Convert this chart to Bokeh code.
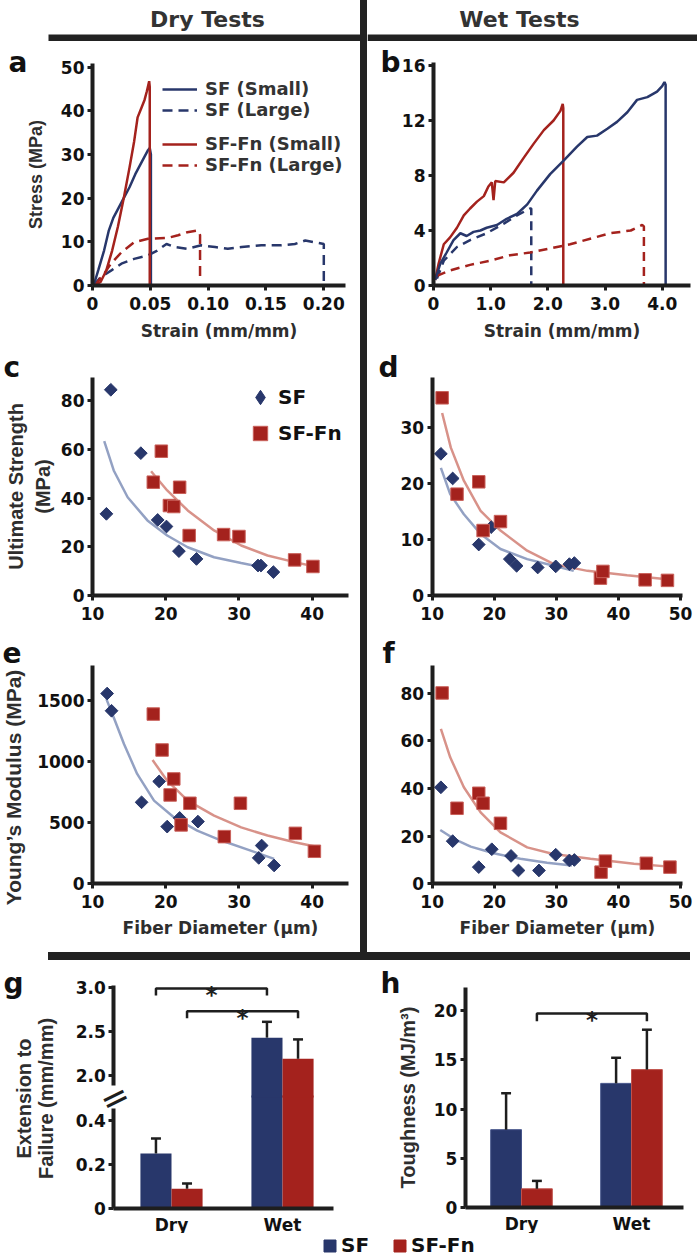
import math
from bokeh.plotting import figure
from bokeh.layouts import row, column
from bokeh.models import Spacer, Label, Legend, LegendItem, FixedTicker, Range1d, LinearAxis
from bokeh.embed import file_html
from bokeh.resources import INLINE
from bokeh.core.properties import value

# ======================= DATA =======================
# (a) Dry tests: stress (MPa) vs strain (mm/mm)
a_sf_small_strain = [0.001, 0.005, 0.010, 0.014, 0.018, 0.022, 0.027, 0.032, 0.037, 0.041, 0.045, 0.048, 0.0495, 0.0505, 0.0505]
a_sf_small_stress = [0.0, 3.5, 8.0, 12.5, 15.5, 17.5, 20.0, 22.5, 25.5, 27.5, 29.5, 31.0, 31.5, 30.0, 0.0]
a_sf_large_strain = [0.001, 0.007, 0.016, 0.025, 0.036, 0.048, 0.056, 0.064, 0.071, 0.082, 0.094, 0.106, 0.117, 0.129, 0.146, 0.163, 0.175, 0.184, 0.192, 0.200, 0.200]
a_sf_large_stress = [0.0, 1.9, 3.4, 5.0, 6.1, 6.9, 8.0, 9.5, 8.8, 8.4, 9.2, 8.8, 8.4, 8.8, 9.2, 9.2, 9.5, 10.3, 9.9, 9.5, 1.0]
a_fn_small_strain = [0.002, 0.007, 0.012, 0.017, 0.022, 0.027, 0.032, 0.036, 0.039, 0.042, 0.045, 0.047, 0.049, 0.0495, 0.0495]
a_fn_small_stress = [0.0, 0.8, 3.5, 8.0, 13.5, 20.0, 27.0, 33.0, 38.5, 40.5, 42.5, 44.5, 46.8, 45.5, 0.0]
a_fn_large_strain = [0.002, 0.010, 0.016, 0.025, 0.036, 0.048, 0.065, 0.074, 0.082, 0.091, 0.0925, 0.093, 0.093]
a_fn_large_stress = [0.0, 2.7, 5.0, 7.6, 9.9, 10.7, 10.9, 11.5, 12.2, 12.6, 12.0, 11.5, 1.0]

# (b) Wet tests: stress (MPa) vs strain (mm/mm)
b_sf_small_strain = [0.03, 0.12, 0.23, 0.35, 0.47, 0.58, 0.70, 0.82, 0.93, 1.11, 1.28, 1.46, 1.64, 1.81, 2.04, 2.28, 2.51, 2.69, 2.86, 3.04, 3.21, 3.39, 3.56, 3.74, 3.91, 4.00, 4.04, 4.06, 4.06]
b_sf_small_stress = [0.4, 1.6, 2.4, 3.3, 3.8, 3.6, 3.9, 4.0, 4.2, 4.4, 4.85, 5.2, 5.9, 6.9, 8.1, 9.1, 10.1, 10.8, 10.9, 11.4, 11.9, 12.6, 13.5, 13.7, 14.1, 14.5, 14.8, 14.6, 0.0]
b_sf_large_strain = [0.06, 0.18, 0.41, 0.64, 0.93, 1.23, 1.46, 1.69, 1.71, 1.71]
b_sf_large_stress = [0.5, 1.8, 2.8, 3.3, 3.8, 4.5, 5.1, 5.6, 5.6, 0.0]
b_fn_small_strain = [0.03, 0.09, 0.18, 0.29, 0.41, 0.53, 0.64, 0.76, 0.88, 0.96, 1.02, 1.05, 1.08, 1.23, 1.40, 1.58, 1.75, 1.93, 2.10, 2.22, 2.26, 2.27, 2.27]
b_fn_small_stress = [0.4, 1.6, 3.0, 3.5, 4.2, 5.1, 5.6, 6.1, 6.5, 7.2, 7.5, 6.2, 7.6, 7.5, 8.2, 9.3, 10.3, 11.3, 12.0, 12.7, 13.2, 12.9, 0.0]
b_fn_large_strain = [0.06, 0.29, 0.64, 0.99, 1.34, 1.69, 2.04, 2.39, 2.74, 3.09, 3.45, 3.65, 3.68, 3.68]
b_fn_large_stress = [0.7, 1.1, 1.5, 1.8, 2.2, 2.4, 2.7, 3.0, 3.4, 3.8, 4.0, 4.4, 4.3, 0.0]

# (c) Dry ultimate strength (MPa) vs fiber diameter (um)
c_sf_diam = [12.5, 11.9, 16.6, 18.9, 20.1, 21.8, 24.2, 32.6, 33.0, 34.7]
c_sf_val = [84.4, 33.5, 58.4, 31.0, 28.3, 18.2, 15.0, 12.3, 12.3, 9.6]
c_fn_diam = [19.4, 18.3, 21.9, 20.5, 21.1, 23.2, 27.9, 30.0, 37.6, 40.1]
c_fn_val = [59.2, 46.5, 44.4, 36.9, 36.5, 24.6, 25.0, 24.2, 14.6, 11.9]
c_sf_fit_x = [11.6, 12.9, 14.8, 17.5, 20.2, 23.0, 26.6, 30.3, 33.2]
c_sf_fit_y = [63.3, 51.3, 40.3, 30.8, 24.6, 19.8, 15.7, 13.3, 11.6]
c_fn_fit_x = [18.0, 20.2, 23.0, 26.6, 30.3, 33.9, 37.6, 40.3]
c_fn_fit_y = [51.0, 43.1, 34.9, 26.7, 20.5, 16.4, 13.7, 11.9]

# (d) Wet ultimate strength (MPa)
d_sf_diam = [11.4, 13.3, 17.5, 19.5, 22.5, 23.6, 27.0, 29.9, 32.1, 32.9]
d_sf_val = [25.3, 20.9, 9.1, 12.2, 6.5, 5.3, 5.0, 5.2, 5.6, 5.8]
d_fn_diam = [11.6, 14.0, 17.5, 18.2, 21.0, 37.1, 37.5, 44.3, 47.9]
d_fn_val = [35.3, 18.1, 20.3, 11.6, 13.2, 3.1, 4.3, 2.8, 2.7]
d_sf_fit_x = [11.4, 12.9, 15.1, 17.8, 21.0, 25.3, 29.6, 32.8]
d_sf_fit_y = [22.8, 18.1, 14.5, 11.0, 8.3, 6.5, 5.3, 4.4]
d_fn_fit_x = [11.6, 13.0, 15.1, 17.8, 21.0, 25.3, 29.6, 35.0, 41.4, 48.6]
d_fn_fit_y = [32.6, 26.4, 20.5, 15.1, 11.6, 8.0, 5.6, 4.4, 3.6, 2.8]

# (e) Dry Young's modulus (MPa)
e_sf_diam = [12.0, 12.6, 19.1, 16.7, 21.9, 20.2, 24.4, 33.1, 32.7, 34.8]
e_sf_val = [1557, 1416, 838, 667, 539, 468, 509, 313, 212, 150]
e_fn_diam = [18.3, 19.5, 21.1, 20.6, 23.3, 30.2, 22.1, 28.0, 37.7, 40.3]
e_fn_val = [1389, 1095, 858, 727, 659, 659, 482, 386, 413, 266]
e_sf_fit_x = [11.9, 12.9, 14.3, 16.1, 18.4, 21.1, 24.3, 27.6, 31.3, 34.8]
e_sf_fit_y = [1511, 1361, 1144, 899, 681, 544, 435, 354, 278, 204]
e_fn_fit_x = [18.2, 20.2, 23.0, 26.6, 30.3, 33.9, 37.6, 40.4]
e_fn_fit_y = [1013, 844, 681, 558, 462, 395, 340, 305]

# (f) Wet Young's modulus (MPa)
f_sf_diam = [11.4, 13.3, 17.5, 19.6, 22.7, 23.9, 27.2, 29.9, 32.1, 32.9]
f_sf_val = [40.5, 17.9, 7.0, 14.5, 11.7, 5.6, 5.6, 12.2, 9.8, 10.0]
f_fn_diam = [11.6, 14.0, 17.5, 18.2, 21.0, 37.2, 37.9, 44.5, 48.3]
f_fn_val = [80.1, 31.7, 38.0, 33.8, 25.4, 4.9, 9.5, 8.6, 7.0]
f_sf_fit_x = [11.3, 13.5, 16.2, 19.9, 24.2, 28.5, 32.5]
f_sf_fit_y = [22.6, 18.9, 15.6, 12.8, 10.5, 8.8, 7.7]
f_fn_fit_x = [11.4, 12.9, 15.1, 17.8, 21.0, 25.3, 29.5, 35.5, 42.5, 49.2]
f_fn_fit_y = [65.0, 53.1, 40.5, 30.0, 21.6, 15.3, 12.5, 10.5, 8.4, 7.0]

# (g) Extension to failure (mm/mm), (h) toughness (MJ/m^3)
conditions = ["Dry", "Wet"]
g_sf = [0.25, 2.43]
g_sf_err = [0.068, 0.18]
g_fn = [0.09, 2.19]
g_fn_err = [0.024, 0.22]
h_sf = [7.9, 12.6]
h_sf_err = [3.7, 2.6]
h_fn = [1.9, 14.0]
h_fn_err = [0.8, 4.05]
# significance brackets: (start group, start series, end group, end series, height)
g_sig = [(0, "SF", 1, "SF", 2.99), (0, "SF-Fn", 1, "SF-Fn", 2.73)]
h_sig = [(0, "SF-Fn", 1, "SF-Fn", 19.7)]

# tick labels
a_xticks = [0, 0.05, 0.10, 0.15, 0.20]
a_xlabels = ["0", "0.05", "0.10", "0.15", "0.20"]
a_yticks = [0, 10, 20, 30, 40, 50]
b_xticks = [0, 1, 2, 3, 4]
b_xlabels = ["0", "1.0", "2.0", "3.0", "4.0"]
b_yticks = [0, 4, 8, 12, 16]
c_yticks = [0, 20, 40, 60, 80]
d_yticks = [0, 10, 20, 30]
e_yticks = [0, 500, 1000, 1500]
f_yticks = [0, 20, 40, 60, 80]
diam_ticks_dry = [10, 20, 30, 40]
diam_ticks_wet = [10, 20, 30, 40, 50]
g_upper_ticks = [2.0, 2.5, 3.0]
g_upper_labels = ["2.0", "2.5", "3.0"]
g_lower_ticks = [0, 0.2, 0.4]
g_lower_labels = ["0", "0.2", "0.4"]
h_yticks = [0, 5, 10, 15, 20]

# ======================= STYLE =======================
NAVY = "#28376B"
RED = "#A4221D"
NAVY_FIT = "#8D9CC0"
RED_FIT = "#D68C83"
INK = "#1E1E1E"
TXT = "#2E2E2E"
HF = "DejaVu Sans"
VF = "Liberation Sans"
OFF = 0.14
BW = 0.28
CAP = 0.045
NAN = [float("nan")]


def lin_range(d0, p0, d1, p1, c0, c1):
    """Range whose ends sit at canvas pixels c0, c1, given two data->pixel anchors."""
    s = (d1 - d0) / (p1 - p0)
    return Range1d(d0 + (c0 - p0) * s, d0 + (c1 - p0) * s)


def px_to_val(m, px):
    d0, p0, d1, p1 = m
    return d0 + (px - p0) * (d1 - d0) / (p1 - p0)


def base(w, h, xr, yr, xaxis=True, yaxis=True):
    p = figure(width=w, height=h, x_range=xr, y_range=yr, title=None,
               output_backend="svg", toolbar_location=None, min_border=0,
               x_axis_type="linear" if xaxis else None,
               y_axis_type="linear" if yaxis else None)
    p.grid.visible = False
    p.outline_line_color = None
    p.background_fill_color = "white"
    p.border_fill_color = "white"
    return p


def panel(box, xmap, ymap, xb, yb, xaxis=True, yaxis=True):
    cx, cy, cw, ch = box
    p = base(cw, ch, lin_range(*xmap, cx, cx + cw), lin_range(*ymap, cy + ch, cy), xaxis, yaxis)
    if xaxis:
        p.xaxis.fixed_location = yb[0]
        p.xaxis.bounds = xb
    if yaxis:
        p.yaxis.fixed_location = xb[0]
        p.yaxis.bounds = yb
    p._box = box
    return p


def style_axis(ax, ticks, labels=None, size="17px", tick_out=5, standoff=3):
    ax.ticker = FixedTicker(ticks=list(ticks))
    if labels is not None:
        ax.major_label_overrides = {t: l for t, l in zip(ticks, labels)}
    ax.axis_line_width = 4
    ax.axis_line_color = INK
    ax.major_tick_line_width = 3
    ax.major_tick_line_color = INK
    ax.major_tick_out = tick_out
    ax.major_tick_in = 0
    ax.minor_tick_line_color = None
    ax.major_label_text_font = HF
    ax.major_label_text_font_style = "bold"
    ax.major_label_text_font_size = size
    ax.major_label_text_color = "#111111"
    ax.major_label_standoff = standoff
    ax.axis_label_text_font_style = "bold"
    ax.axis_label_text_color = TXT


def xlabel(p, text, standoff=8):
    p.xaxis.axis_label = text
    p.xaxis.axis_label_text_font = HF
    p.xaxis.axis_label_text_font_size = "17px"
    p.xaxis.axis_label_standoff = standoff


def ylabel(p, text, size="20px", standoff=8):
    p.yaxis.axis_label = text
    p.yaxis.axis_label_text_font = VF
    p.yaxis.axis_label_text_font_size = size
    p.yaxis.axis_label_standoff = standoff


def page_label(p, text, px, py, size="28px", font=HF, angle=0.0, align="left", color="#111111"):
    """Label anchored at page pixel (px, py); the figure frame covers its whole canvas."""
    cx, cy, cw, ch = p._box
    p.add_layout(Label(x=px - cx, y=cy + ch - py, x_units="screen", y_units="screen", text=text,
                       angle=angle, text_font=font, text_font_style="bold", text_font_size=size,
                       text_color=color, text_align=align, text_baseline="middle"))


def scatter_panel(p, sfx, sfy, fnx, fny, sffx, sffy, fnfx, fnfy):
    p.line(sffx, sffy, line_color=NAVY_FIT, line_width=2.5, line_alpha=0.95)
    p.line(fnfx, fnfy, line_color=RED_FIT, line_width=2.5, line_alpha=0.95)
    p.scatter(sfx, sfy, marker="square", angle=math.pi / 4, size=9,
              fill_color=NAVY, line_color=NAVY, line_width=1)
    p.scatter(fnx, fny, marker="square", size=12.5,
              fill_color=RED, line_color="#C9605A", line_width=1)


def err_bar(p, x, v, e, rng="default"):
    p.segment(x0=[x], y0=[v], x1=[x], y1=[v + e], line_color=INK, line_width=2.5, y_range_name=rng)
    p.segment(x0=[x - CAP], y0=[v + e], x1=[x + CAP], y1=[v + e], line_color=INK, line_width=2.5,
              y_range_name=rng)


def bars(p, sf, sf_err, fn, fn_err):
    gx = list(range(len(conditions)))
    xs_sf = [g - OFF for g in gx]
    xs_fn = [g + OFF for g in gx]
    p.vbar(x=xs_sf, top=sf, bottom=0, width=BW, fill_color=NAVY, line_color="#46558A", line_width=1)
    p.vbar(x=xs_fn, top=fn, bottom=0, width=BW, fill_color=RED, line_color="#C0524C", line_width=1)
    for xs, v, e in ((xs_sf, sf, sf_err), (xs_fn, fn, fn_err)):
        for x, vv, ee in zip(xs, v, e):
            err_bar(p, x, vv, ee)


def broken_bars(p, sf, sf_err, fn, fn_err, low_top, low_cover, high_bottom):
    """Bars on a broken axis: lower segment on the default range, upper segment on 'upper'."""
    gx = list(range(len(conditions)))
    for off, vals, errs, col in ((-OFF, sf, sf_err, NAVY), (OFF, fn, fn_err, RED)):
        for g, v, e in zip(gx, vals, errs):
            x = g + off
            if v <= low_top:
                p.vbar(x=[x], top=[v], bottom=0, width=BW, fill_color=col, line_color=None)
                err_bar(p, x, v, e)
            else:
                p.vbar(x=[x], top=[low_cover], bottom=0, width=BW, fill_color=col, line_color=None)
                p.vbar(x=[x], top=[v], bottom=high_bottom, width=BW, fill_color=col, line_color=None,
                       y_range_name="upper")
                err_bar(p, x, v, e, "upper")


def brackets(p, sig, drop, rng="default"):
    for g0, s0, g1, s1, ytop in sig:
        x0 = g0 + (-OFF if s0 == "SF" else OFF)
        x1 = g1 + (-OFF if s1 == "SF" else OFF)
        p.line([x0, x0, x1, x1], [ytop - drop, ytop, ytop, ytop - drop], line_color=INK, line_width=2.5,
               y_range_name=rng)
        p.text(x=[(x0 + x1) / 2], y=[ytop], text=["*"], text_font=value(HF), text_font_style="bold",
               text_font_size="23px", text_align="center", text_baseline="alphabetic",
               y_offset=7, text_color=INK, y_range_name=rng)


def legend(items, loc, **kw):
    opts = dict(location=loc, padding=0, margin=0, border_line_color=None, background_fill_alpha=0,
                label_text_font=HF, label_text_font_style="bold", label_text_color="#111111")
    opts.update(kw)
    return Legend(items=[LegendItem(label=value(t), renderers=[r]) for t, r in items], **opts)


# ======================= PAGE GEOMETRY (pixels) =======================
LX, LW = 0, 360          # left column
VW = 7                   # vertical separator
RX, RW = 367, 330        # right column
HDR_H = 41
ROW_A = (41, 309)
ROW_C = (350, 280)
ROW_E = (630, 322)
BOT_Y, BOT_H = 960, 273
LEG_H = 24

# ======================= HEADER (titles + top rule) =======================
hdr_l = base(LW, HDR_H, Range1d(0, LW), Range1d(0, HDR_H), False, False)
hdr_l._box = (LX, 0, LW, HDR_H)
hdr_l.quad(left=[48], right=[LW], bottom=[0], top=[7], fill_color="#222222", line_color=None)
page_label(hdr_l, "Dry Tests", 207, 19, size="22px", align="center", color="#333333")
hdr_r = base(RW, HDR_H, Range1d(0, RW), Range1d(0, HDR_H), False, False)
hdr_r._box = (RX, 0, RW, HDR_H)
hdr_r.quad(left=[0], right=[RW], bottom=[0], top=[7], fill_color="#222222", line_color=None)
page_label(hdr_r, "Wet Tests", 519, 19, size="22px", align="center", color="#333333")

DARK = {"background-color": "#222222"}

# ======================= PANEL a =======================
pa = panel((LX, ROW_A[0], LW, ROW_A[1]), (0, 92, 0.2, 323.3), (0, 285, 50, 66.7), (0, 0.219), (0, 50.85))
style_axis(pa.xaxis[0], a_xticks, a_xlabels, standoff=6)
style_axis(pa.yaxis[0], a_yticks)
xlabel(pa, "Strain (mm/mm)")
ylabel(pa, "Stress (MPa)", size="18px", standoff=12)
ra2 = pa.line(a_sf_large_strain, a_sf_large_stress, line_color=NAVY, line_width=2.5, line_dash="10 6")
ra4 = pa.line(a_fn_large_strain, a_fn_large_stress, line_color=RED, line_width=2.5, line_dash="10 6")
ra1 = pa.line(a_sf_small_strain, a_sf_small_stress, line_color=NAVY, line_width=2.5)
ra3 = pa.line(a_fn_small_strain, a_fn_small_stress, line_color=RED, line_width=2.5)
lg_kw = dict(glyph_width=35, glyph_height=20, label_height=20, label_standoff=8, spacing=0,
             label_text_font_size="18px", label_text_color="#333333")
A_BOTTOM = ROW_A[0] + ROW_A[1]
pa.add_layout(legend([("SF (Small)", ra1), ("SF (Large)", ra2)], (162, A_BOTTOM - 120), **lg_kw))
pa.add_layout(legend([("SF-Fn (Small)", ra3), ("SF-Fn (Large)", ra4)], (162, A_BOTTOM - 175), **lg_kw))
page_label(pa, "a", 8, 62)

# ======================= PANEL b =======================
pb = panel((RX, ROW_A[0], RW, ROW_A[1]), (0, 433, 4, 661.7), (0, 285, 16, 65), (0, 4.49), (0, 16.2))
style_axis(pb.xaxis[0], b_xticks, b_xlabels, standoff=6)
style_axis(pb.yaxis[0], b_yticks)
xlabel(pb, "Strain (mm/mm)")
pb.line(b_sf_large_strain, b_sf_large_stress, line_color=NAVY, line_width=2.5, line_dash="9 6")
pb.line(b_fn_large_strain, b_fn_large_stress, line_color=RED, line_width=2.5, line_dash="9 6")
pb.line(b_fn_small_strain, b_fn_small_stress, line_color=RED, line_width=2.5)
pb.line(b_sf_small_strain, b_sf_small_stress, line_color=NAVY, line_width=2.5)
page_label(pb, "b", 380, 62)

# ======================= PANEL c =======================
pc = panel((LX, ROW_C[0], LW, ROW_C[1]), (10, 92, 40, 311.7), (0, 595, 80, 400), (10, 45.0), (0, 89.3))
style_axis(pc.xaxis[0], diam_ticks_dry, standoff=6)
style_axis(pc.yaxis[0], c_yticks)
ylabel(pc, "Ultimate Strength\n(MPa)", standoff=4)
scatter_panel(pc, c_sf_diam, c_sf_val, c_fn_diam, c_fn_val,
              c_sf_fit_x, c_sf_fit_y, c_fn_fit_x, c_fn_fit_y)
pc_p1 = pc.scatter(NAN, NAN, marker="diamond", size=10, fill_color=NAVY, line_color=NAVY)
pc_p2 = pc.scatter(NAN, NAN, marker="square", size=10, fill_color=RED, line_color="#C9605A")
pc.add_layout(legend([("SF", pc_p1), ("SF-Fn", pc_p2)], (242, ROW_C[0] + ROW_C[1] - 451),
                     glyph_width=36, glyph_height=36, label_height=20, label_standoff=-3, spacing=0,
                     label_text_font_size="20px"))
page_label(pc, "c", 3, 367)

# ======================= PANEL d =======================
pd_ = panel((RX, ROW_C[0], RW, ROW_C[1]), (10, 431.7, 50, 680), (0, 595, 30, 427), (10, 50.3), (0, 38.9))
style_axis(pd_.xaxis[0], diam_ticks_wet, standoff=6)
style_axis(pd_.yaxis[0], d_yticks)
scatter_panel(pd_, d_sf_diam, d_sf_val, d_fn_diam, d_fn_val,
              d_sf_fit_x, d_sf_fit_y, d_fn_fit_x, d_fn_fit_y)
page_label(pd_, "d", 378, 367)

# ======================= PANEL e =======================
pe = panel((LX, ROW_E[0], LW, ROW_E[1]), (10, 92, 40, 311.7), (0, 883.3, 1500, 700), (10, 45.0), (0, 1785))
style_axis(pe.xaxis[0], diam_ticks_dry, standoff=6)
style_axis(pe.yaxis[0], e_yticks)
xlabel(pe, "Fiber Diameter (\u00b5m)", standoff=7)
page_label(pe, "Young\u2019s Modulus (MPa)", 13, 787, size="21px", font=VF, angle=math.pi / 2,
           align="center", color=TXT)
scatter_panel(pe, e_sf_diam, e_sf_val, e_fn_diam, e_fn_val,
              e_sf_fit_x, e_sf_fit_y, e_fn_fit_x, e_fn_fit_y)
page_label(pe, "e", 2, 652)

# ======================= PANEL f =======================
pf = panel((RX, ROW_E[0], RW, ROW_E[1]), (10, 431.7, 50, 680), (0, 883.3, 80, 692.7), (10, 50.3), (0, 91.5))
style_axis(pf.xaxis[0], diam_ticks_wet, standoff=6)
style_axis(pf.yaxis[0], f_yticks)
xlabel(pf, "Fiber Diameter (\u00b5m)", standoff=7)
scatter_panel(pf, f_sf_diam, f_sf_val, f_fn_diam, f_fn_val,
              f_sf_fit_x, f_sf_fit_y, f_fn_fit_x, f_fn_fit_y)
page_label(pf, "f", 382, 653)

# ======================= PANEL g (broken y axis) =======================
G_BOX = (LX, BOT_Y, LW, BOT_H)
G_LOW = (0, 1208, 0.4, 1120)      # lower segment: value -> page px
G_UP = (2.0, 1075, 3.0, 987)      # upper segment: value -> page px
G_BREAK_PX = 1097
g_low_top = px_to_val(G_LOW, G_BREAK_PX)
g_low_cover = px_to_val(G_LOW, G_BREAK_PX - 2)
g_high_bottom = px_to_val(G_UP, G_BREAK_PX)

pg = panel(G_BOX, (0, 171, 1, 282), G_LOW, (-0.52, 1.46), (0, 0.455))
pg.extra_y_ranges = {"upper": lin_range(*G_UP, BOT_Y + BOT_H, BOT_Y)}
g_low_ax = pg.yaxis[0]
g_up_ax = LinearAxis(y_range_name="upper")
pg.add_layout(g_up_ax, "left")
g_up_ax.fixed_location = -0.52
g_up_ax.bounds = (1.886, 3.02)
style_axis(g_low_ax, g_lower_ticks, g_lower_labels)
style_axis(g_up_ax, g_upper_ticks, g_upper_labels)
style_axis(pg.xaxis[0], [0, 1], conditions, tick_out=0, standoff=6)
broken_bars(pg, g_sf, g_sf_err, g_fn, g_fn_err, g_low_top, g_low_cover, g_high_bottom)
brackets(pg, g_sig, 0.08, "upper")
page_label(pg, "g", 3, 983)
page_label(pg, "Extension to", 23, 1098, size="20px", font=VF, angle=math.pi / 2, align="center", color=TXT)
page_label(pg, "Failure (mm/mm)", 45, 1098, size="20px", font=VF, angle=math.pi / 2, align="center", color=TXT)
for mx, my in ((112.5, 1094.0), (115.5, 1100.0)):
    page_label(pg, "\u2014", mx, my, size="24px", angle=0.45, align="center", color=INK)

# ======================= PANEL h =======================
ph = panel((LW, BOT_Y, 697 - LW, BOT_H), (0, 521, 1, 631), (0, 1207, 20, 1010), (-0.51, 1.47), (0, 22.3))
style_axis(ph.xaxis[0], [0, 1], conditions, tick_out=0, standoff=6)
style_axis(ph.yaxis[0], h_yticks)
ylabel(ph, "Toughness (MJ/m\u00b3)", standoff=12)
bars(ph, h_sf, h_sf_err, h_fn, h_fn_err)
brackets(ph, h_sig, 0.8)
page_label(ph, "h", 380, 983)

# ======================= BOTTOM LEGEND =======================
leg = base(697, LEG_H, Range1d(0, 1), Range1d(0, 1), False, False)
lr1 = leg.vbar(x=NAN, top=NAN, width=0.1, fill_color=NAVY, line_color=NAVY)
lr2 = leg.vbar(x=NAN, top=NAN, width=0.1, fill_color=RED, line_color=RED)
leg.add_layout(legend([("SF", lr1), ("SF-Fn", lr2)], (322, 0), orientation="horizontal",
                      glyph_width=15, glyph_height=15, label_height=20, label_standoff=4,
                      spacing=23, label_text_font_size="20px"))

# ======================= LAYOUT =======================
layout = column(
    row(hdr_l, Spacer(width=VW, height=HDR_H, styles=DARK), hdr_r),
    row(column(pa, pc, pe), Spacer(width=VW, height=ROW_A[1] + ROW_C[1] + ROW_E[1], styles=DARK),
        column(pb, pd_, pf)),
    row(Spacer(width=48, height=8), Spacer(width=642, height=8, styles=DARK), Spacer(width=7, height=8)),
    row(pg, ph),
    leg,
)

open("out.html", "w").write(file_html(layout, INLINE))
